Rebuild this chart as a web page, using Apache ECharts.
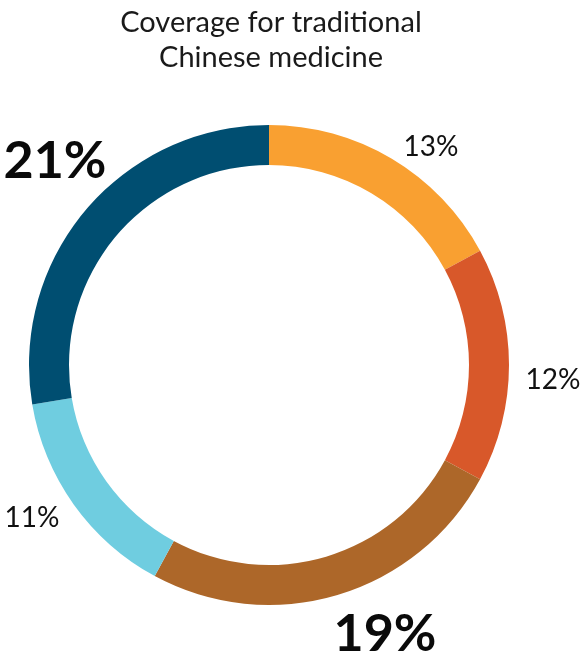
<!DOCTYPE html>
<html>
<head>
<meta charset="utf-8">
<script src="https://cdn.jsdelivr.net/npm/echarts@6/dist/echarts.min.js"></script>
<style>
  html, body { margin: 0; padding: 0; background: #ffffff; }
  #chart { width: 584px; height: 659px; }
</style>
</head>
<body>
<div id="chart"></div>
<script>
// Data
const titleText = 'Coverage for traditional\nChinese medicine';
const categories = ['A', 'B', 'C', 'D', 'E'];
const values = [13, 12, 19, 11, 21];
const emphasized = [false, false, true, false, true];

// Styles
const colors = ['#F9A031', '#D8582A', '#AD6729', '#6FCDE0', '#004E71'];
const labelCenters = [[431, 147], [553, 380], [385, 634], [32, 518], [55, 161]];

const chart = echarts.init(document.getElementById('chart'), null, { renderer: 'canvas' });

const option = {
  animation: false,
  backgroundColor: '#ffffff',
  title: {
    text: titleText,
    left: 266,
    textAlign: 'center',
    top: 0,
    textStyle: {
      fontFamily: 'Lato',
      fontSize: 29,
      fontWeight: 'normal',
      lineHeight: 35,
      color: '#1a1a1a'
    }
  },
  series: [{
    type: 'pie',
    center: [269, 365],
    radius: [200, 240],
    startAngle: 90,
    clockwise: true,
    avoidLabelOverlap: false,
    itemStyle: { borderWidth: 0 },
    labelLine: { show: false },
    label: {
      show: true,
      position: 'outside',
      formatter: function (p) {
        return emphasized[p.dataIndex] ? '{big|' + p.value + '%}' : '{small|' + p.value + '%}';
      },
      rich: {
        small: { fontFamily: 'Lato', fontSize: 28, color: '#111111' },
        big: { fontFamily: 'Lato', fontSize: 52, fontWeight: 'bold', color: '#0a0a0a' }
      }
    },
    labelLayout: function (params) {
      const c = labelCenters[params.dataIndex];
      return { x: c[0], y: c[1], align: 'center', verticalAlign: 'middle' };
    },
    data: categories.map((name, i) => ({
      name: name,
      value: values[i],
      itemStyle: { color: colors[i] }
    }))
  }]
};

chart.setOption(option);
</script>
</body>
</html>
